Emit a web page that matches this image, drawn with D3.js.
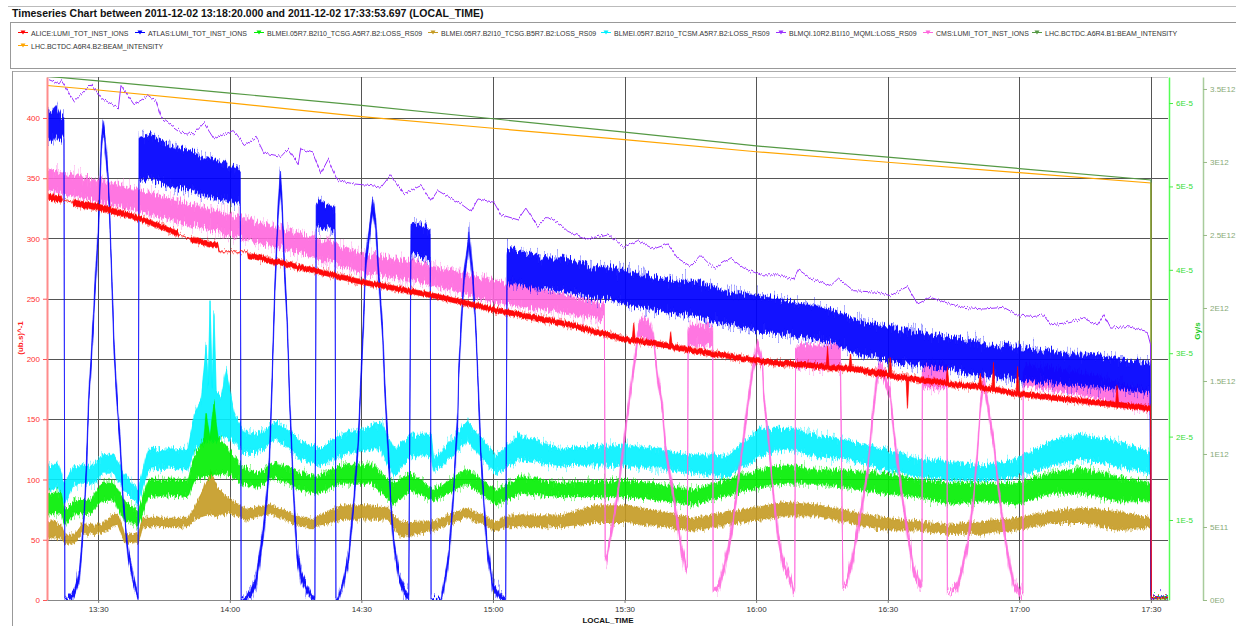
<!DOCTYPE html>
<html>
<head>
<meta charset="utf-8">
<title>Timeseries Chart</title>
<script src="https://cdn.jsdelivr.net/npm/d3@7"></script>
<style>
  body { margin: 0; background: #fff; }
  svg { font-family: "Liberation Sans", Arial, sans-serif; display: block; }
</style>
</head>
<body>
<svg id="chart" width="1236" height="626"></svg>
<script>
// ---- data (time in minutes after 13:00 on 2011-12-02) ----
const timeTicks = ['13:30', '14:00', '14:30', '15:00', '15:30', '16:00', '16:30', '17:00', '17:30'];
const lumiTicks = [0, 50, 100, 150, 200, 250, 300, 350, 400];
const lossTicks = [1, 2, 3, 4, 5, 6];                        // x 1E-5 Gy/s
const lossTickLabels = ['1E-5', '2E-5', '3E-5', '4E-5', '5E-5', '6E-5'];
const intTicks = [0, 0.5, 1, 1.5, 2, 2.5, 3, 3.5];            // x 1E12
const intTickLabels = ['0E0', '5E11', '1E12', '1.5E12', '2E12', '2.5E12', '3E12', '3.5E12'];

const seriesNames = [
  'ALICE:LUMI_TOT_INST_IONS', 'ATLAS:LUMI_TOT_INST_IONS',
  'BLMEI.05R7.B2I10_TCSG.A5R7.B2:LOSS_RS09', 'BLMEI.05R7.B2I10_TCSG.B5R7.B2:LOSS_RS09',
  'BLMEI.05R7.B2I10_TCSM.A5R7.B2:LOSS_RS09', 'BLMQI.10R2.B1I10_MQML:LOSS_RS09',
  'CMS:LUMI_TOT_INST_IONS', 'LHC.BCTDC.A6R4.B1:BEAM_INTENSITY', 'LHC.BCTDC.A6R4.B2:BEAM_INTENSITY'
];
const seriesColors = ['#ff0000', '#0000ff', '#00ee00', '#c49a22', '#00f0ff', '#9b30ff', '#ff66dd', '#559944', '#ffa500'];

// noisy series: [minute, low, high] envelope
const alice = [
  [18.3,332,337],[21.6,330,335],[21.8,332,332],[24.2,330,330],[24.4,327,332],[30.7,323,328],[39.8,314,318],
  [48.2,302,306],[48.4,303,303],[51.0,300,300],[51.2,297,301],[57.3,292,296],[57.6,289,289],[64.0,289,289],
  [64.2,284,288],[76.2,274,278],[89.9,262,266],[105.9,251,255],[120.2,239,243],[135.5,228,232],[150.7,214,218],
  [151.8,213,217],[152.1,213,230],[152.4,213,217],[160.2,209,213],[160.5,209,222],[160.8,208,212],[165.8,205,209],
  [181.0,196,200],[194.7,192,196],[196.0,191,195],[196.3,191,210],[196.6,191,195],[201.2,190,194],[201.5,190,205],
  [201.8,190,194],[209.0,185,190],[210.3,185,189],[210.6,185,202],[210.9,184,188],[214.2,182,186],[214.5,159,186],
  [214.8,182,186],[223.3,178,182],[223.6,178,193],[223.9,177,181],[230.8,175,179],[231.1,175,188],[231.4,174,178],
  [233.8,173,177],[234.1,173,196],[234.4,173,177],[239.3,169,173],[239.6,169,193],[239.9,169,173],[254.6,163,167],
  [262.0,160,164],[262.3,160,178],[262.6,160,164],[269.9,157,161],[270.1,2,2],[273.9,2,2]
];
const atlas = [
  [18.3,384,404],[19.5,380,406],[20.5,386,410],[21.5,382,402],[22.2,384,400],[22.4,0,0],
  [22.9,0,2],[24.5,2,8],[25.7,16,24],[26.1,32,40],[26.8,66,74],[27.3,103,113],[27.9,166,176],[28.4,194,204],
  [28.9,225,235],[29.5,270,280],[30.0,295,305],[30.7,370,380],[31.1,387,397],[31.6,375,385],[32.3,345,355],
  [33.0,275,285],[33.6,205,215],[34.3,160,170],[35.0,125,135],[35.7,78,86],[36.8,35,43],[38.0,13,19],[39.1,0,3],
  [39.3,348,384],[41.5,350,386],[44.4,345,380],[47.5,342,376],[51.2,340,372],[54.0,336,368],[56.9,333,365],
  [60.0,331,360],[62.4,329,357],[62.6,0,0],
  [62.8,0,1],[63.7,0,3],[64.9,3,9],[66.0,11,19],[66.7,28,38],[67.6,50,60],[68.3,75,85],[69.0,104,116],
  [69.4,147,159],[69.9,205,217],[70.3,254,266],[71.0,314,326],[71.5,342,358],[71.9,324,336],[72.4,276,288],
  [73.1,224,236],[73.7,154,166],[74.4,95,105],[75.3,35,45],[76.2,16,24],[77.4,7,13],[78.5,1,5],[79.4,0,2],
  [79.7,310,329],[80.5,310,332],[82.0,308,328],[84.0,306,326],[84.2,0,0],
  [84.7,0,2],[86.0,13,19],[87.2,35,43],[88.3,78,86],[89.2,120,130],[89.9,177,187],[90.4,217,227],[91.0,277,287],
  [91.7,297,307],[92.6,322,334],[93.3,306,316],[94.0,263,273],[94.9,212,222],[95.3,175,185],[96.1,120,130],
  [96.7,77,87],[97.4,41,49],[98.6,16,22],[99.7,5,11],[100.8,0,4],
  [101.3,285,311],[102.5,287,313],[104.0,284,310],[105.7,283,308],[105.9,0,0],
  [106.3,0,1],[108.1,0,2],[108.8,8,14],[110.0,35,43],[110.9,78,86],[112.0,148,158],[112.2,183,193],[112.7,220,230],
  [113.4,263,273],[114.3,286,296],[114.5,296,308],[115.4,263,273],[116.1,220,230],[116.6,177,187],[117.2,120,130],
  [117.9,77,87],[118.8,35,43],[120.0,8,14],[121.8,0,4],[122.9,0,2],
  [123.2,262,291],[126.0,262,290],[129.0,258,286],[132.0,259,284],[135.5,256,284],[139.0,254,281],[143.0,250,276],
  [146.5,250,276],[150.7,245,273],[154.0,243,270],[158.0,240,267],[162.0,238,264],[165.8,236,265],[170.0,232,260],
  [174.0,228,255],[177.5,226,254],[181.0,222,252],[185.0,222,250],[189.0,218,246],[194.0,216,244],[198.0,212,240],
  [202.0,206,234],[205.5,203,230],[209.0,200,228],[213.0,197,226],[217.0,195,222],[220.5,193,220],[224.3,191,218],
  [228.0,188,216],[232.0,186,212],[236.0,185,211],[239.6,183,210],[243.5,181,208],[247.0,180,206],[251.0,178,204],
  [254.6,178,204],[258.0,176,202],[262.0,175,200],[266.0,173,198],[269.8,172,196],[270.0,2,2],[273.9,2,2]
];
const cms = [
  [18.3,340,357],[30.7,330,348],[44.4,318,335],[53.5,309,326],[64.9,298,315],[76.2,288,304],[89.9,272,288],
  [105.9,262,278],[120.2,247,265],[133.2,240,256],[145.4,233,245],
  [145.6,36,36],[146.0,33,39],[148.5,84,92],[150.7,152,160],[151.9,184,192],[153.0,215,223],[153.7,216,233],
  [155.3,216,233],[156.6,212,220],[157.6,181,189],[158.7,155,163],[159.4,121,129],[161.2,81,89],[162.8,41,49],
  [163.9,24,32],[164.3,28,28],
  [164.5,222,222],[164.6,211,228],[170.1,211,228],[170.2,8,8],[171.5,8,14],[173.5,35,43],[174.9,64,72],
  [176.5,112,120],[178.1,158,166],[179.4,192,200],[180.3,205,215],[181.5,192,200],[181.7,167,175],[182.9,127,135],
  [184.0,81,89],[185.1,47,55],[186.3,24,32],[187.9,13,19],[188.5,6,10],[188.8,8,8],
  [189.0,208,208],[189.5,193,211],[199.2,193,211],[199.8,11,11],[200.8,13,19],[202.2,35,43],[203.8,67,75],
  [205.4,101,109],[206.5,147,155],[207.7,184,192],[208.3,190,200],[210.6,167,175],[211.3,138,146],[212.9,92,100],
  [214.5,52,60],[215.9,21,29],[217.5,10,16],[217.8,13,13],
  [217.9,191,191],[218.2,176,196],[223.5,176,196],[223.6,5,5],[225.9,8,14],[228.2,41,49],[229.5,78,86],
  [230.5,121,129],[231.1,155,163],[231.8,177,187],[232.7,161,169],[234.1,127,135],[235.7,75,83],[237.3,35,43],
  [238.7,10,16],[240.3,2,8],[240.8,5,5],
  [240.9,191,191],[241.1,178,195],[247.0,174,192],[254.6,170,188],[262.0,163,180],[269.9,157,172],[270.1,2,2],[273.9,2,2]
];
const tcsgA = [
  [18.3,1.07,1.32],[21.6,1.08,1.32],[22.3,0.95,1.11],[24.5,1.07,1.23],[28.4,1.08,1.24],[30.7,1.23,1.44],
  [33.6,1.24,1.44],[35.9,1.00,1.23],[39.1,0.93,1.10],[41.4,1.28,1.48],[46.0,1.30,1.48],[50.5,1.28,1.48],
  [51.9,1.48,1.77],[54.1,1.52,1.95],[54.6,1.52,2.27],[55.5,1.52,1.98],[56.4,1.55,2.40],[57.3,1.55,2.00],
  [59.6,1.56,1.85],[62.6,1.44,1.65],[66.4,1.40,1.56],[70.1,1.52,1.69],[76.2,1.36,1.56],[80.1,1.32,1.52],
  [85.4,1.44,1.65],[92.2,1.44,1.67],[97.4,1.19,1.44],[101.3,1.36,1.56],[106.5,1.23,1.36],[113.8,1.44,1.61],
  [120.7,1.19,1.36],[126.4,1.32,1.52],[135.5,1.28,1.44],[150.7,1.28,1.48],[165.8,1.19,1.36],[181.0,1.40,1.60],
  [186.3,1.44,1.65],[194.0,1.44,1.61],[209.0,1.32,1.56],[216.8,1.28,1.48],[224.3,1.19,1.44],[231.8,1.23,1.44],
  [239.6,1.19,1.44],[247.1,1.32,1.56],[254.6,1.32,1.61],[262.3,1.23,1.52],[269.9,1.23,1.44],[270.1,0.07,0.07],[273.9,0.07,0.07]
];
const tcsgB = [
  [18.3,0.76,0.93],[19.5,0.80,1.00],[21.6,0.78,0.93],[22.3,0.72,0.82],[24.5,0.72,0.82],[26.1,0.84,0.94],
  [30.7,0.84,0.94],[33.0,0.92,1.05],[34.6,0.94,1.06],[36.0,0.74,0.84],[39.1,0.72,0.82],[40.2,0.92,1.02],
  [50.5,0.92,1.02],[51.9,1.01,1.14],[54.1,1.05,1.38],[55.7,1.07,1.56],[57.3,1.05,1.38],[59.6,1.09,1.26],
  [63.7,1.01,1.13],[69.4,1.08,1.18],[76.2,0.92,1.02],[79.2,0.92,1.02],[85.4,1.01,1.17],[92.2,1.01,1.17],
  [96.0,1.01,1.14],[99.0,0.80,0.97],[101.3,0.82,0.97],[106.5,0.88,0.98],[113.8,1.04,1.14],[120.7,0.88,0.98],
  [124.0,0.92,1.05],[135.5,0.92,1.05],[143.0,0.97,1.17],[150.7,0.97,1.17],[165.8,0.88,1.02],[181.0,1.01,1.16],
  [186.3,1.05,1.21],[194.0,1.05,1.18],[201.5,0.97,1.10],[209.0,0.88,1.02],[216.8,0.88,0.98],[224.3,0.84,0.94],
  [231.8,0.84,0.98],[239.6,0.88,1.02],[247.1,0.97,1.10],[254.6,0.97,1.14],[262.3,0.88,1.10],[269.9,0.92,1.02],
  [270.1,0.07,0.07],[273.9,0.07,0.07]
];
const tcsm = [
  [18.3,1.36,1.65],[20.9,1.38,1.66],[22.3,1.19,1.44],[24.5,1.44,1.65],[29.1,1.44,1.66],[30.7,1.56,1.77],
  [33.6,1.56,1.78],[35.9,1.36,1.56],[39.1,1.19,1.36],[41.4,1.61,1.85],[46.0,1.62,1.84],[50.5,1.61,1.85],
  [51.9,1.85,2.27],[53.5,1.90,2.45],[54.6,1.94,3.10],[55.1,1.94,2.60],[55.5,1.94,3.63],[56.0,1.94,2.60],
  [56.4,1.94,3.50],[56.9,1.94,2.55],[58.0,2.02,2.47],[59.2,1.98,2.80],[61.0,1.94,2.27],[63.3,1.81,2.06],
  [66.4,1.81,2.02],[70.5,1.98,2.18],[76.2,1.73,1.94],[80.8,1.65,1.85],[85.4,1.77,2.02],[90.6,1.85,2.10],
  [94.5,1.85,2.18],[97.4,1.52,1.85],[101.3,1.77,2.02],[105.9,1.77,2.02],[106.5,1.58,1.72],[114.1,1.94,2.18],
  [120.7,1.56,1.77],[125.7,1.73,2.02],[135.5,1.65,1.85],[143.0,1.66,1.88],[150.7,1.65,1.90],[158.0,1.62,1.84],
  [165.8,1.56,1.77],[173.5,1.52,1.77],[181.0,1.77,2.10],[186.3,1.85,2.10],[194.0,1.77,2.02],[201.5,1.73,1.94],
  [209.0,1.61,1.85],[216.8,1.52,1.73],[224.3,1.48,1.69],[231.8,1.48,1.65],[239.6,1.52,1.73],[247.1,1.65,1.94],
  [254.6,1.73,2.02],[262.3,1.65,1.94],[269.9,1.56,1.81],[270.1,0.07,0.07],[273.9,0.07,0.07]
];
// plain lines: [minute, value]
const mqml = [
  [18.3,6.29],[21.1,6.23],[21.6,6.27],[24.5,6.02],[28.4,6.23],[30.7,6.06],[34.6,5.94],[35.2,6.21],[38.2,5.98],
  [41.4,6.09],[43.2,6.02],[44.4,5.82],[48.9,5.65],[51.9,5.63],[54.1,5.76],[56.4,5.57],[60.8,5.67],[63.3,5.49],
  [66.0,5.59],[67.8,5.40],[71.7,5.36],[73.3,5.45],[75.6,5.26],[76.2,5.45],[79.0,5.40],[80.8,5.16],[82.4,5.32],
  [84.7,5.07],[88.3,5.03],[92.2,5.01],[94.5,4.99],[96.7,5.14],[99.7,4.91],[103.6,5.01],[105.9,4.83],[107.4,4.95],
  [112.7,4.79],[115.0,4.70],[116.6,4.85],[120.2,4.81],[121.8,4.66],[125.7,4.60],[127.5,4.74],[130.2,4.52],
  [132.5,4.64],[135.5,4.54],[137.1,4.46],[141.6,4.37],[146.2,4.43],[149.8,4.27],[153.0,4.35],[156.6,4.25],
  [159.8,4.31],[162.1,4.14],[165.1,4.04],[167.4,4.17],[170.3,4.02],[174.2,4.14],[177.2,4.02],[181.0,3.94],
  [184.9,3.94],[188.5,3.88],[189.7,4.00],[192.4,3.90],[197.0,3.81],[198.8,3.90],[200.8,3.81],[202.2,3.75],
  [207.7,3.73],[210.6,3.69],[214.5,3.80],[216.8,3.59],[219.7,3.67],[224.3,3.59],[227.3,3.55],[231.8,3.53],
  [236.4,3.55],[239.6,3.46],[243.2,3.44],[245.5,3.46],[247.1,3.34],[250.0,3.36],[254.6,3.42],[257.8,3.34],
  [259.2,3.46],[260.8,3.30],[264.6,3.32],[269.2,3.26],[269.9,3.12],[270.1,0.07],[273.9,0.07]
];
const beamB1 = [[18.3,3.587],[30,3.555],[60,3.472],[90,3.388],[120,3.296],[150,3.204],[180,3.110],[210,3.033],[240,2.955],[270,2.877],[270.1,0.01],[273.9,0.01]];
const beamB2 = [[18.3,3.524],[30,3.493],[60,3.405],[90,3.311],[120,3.231],[150,3.153],[180,3.070],[210,2.998],[240,2.927],[270,2.856],[270.1,0.01],[273.9,0.01]];

// ---- scales ----
const at = m => new Date(2011, 11, 2, 13, 0, 0, Math.round(m * 60000));
const x = d3.scaleTime()
    .domain([new Date(2011, 11, 2, 13, 18, 20), new Date(2011, 11, 2, 17, 33, 53, 697)])
    .range([47, 1168]);
const yLumi = d3.scaleLinear().domain([0, 434]).range([600, 77]);
const yLoss = d3.scaleLinear().domain([0.0408, 6.312]).range([600, 77]);
const yInt = d3.scaleLinear().domain([0, 3.582]).range([600, 77]);
const tickDates = timeTicks.map(s => { const p = s.split(':'); return new Date(2011, 11, 2, +p[0], +p[1]); });

const svg = d3.select('#chart');

// jitter filters: shift each pixel column up/down a little so the dense
// logged traces get a ragged, noisy edge like the original plot
const defs = svg.append('defs');
function jag(id, scale, seed, fy) {
  const f = defs.append('filter').attr('id', id)
      .attr('filterUnits', 'userSpaceOnUse').attr('x', 0).attr('y', 0).attr('width', 1236).attr('height', 626)
      .attr('color-interpolation-filters', 'sRGB');
  f.append('feTurbulence').attr('type', 'fractalNoise').attr('baseFrequency', `0.7 ${fy}`)
      .attr('numOctaves', 2).attr('seed', seed).attr('result', 'n');
  f.append('feColorMatrix').attr('in', 'n').attr('type', 'matrix')
      .attr('values', '0 0 0 0 0.5  0 1 0 0 0  0 0 1 0 0  0 0 0 0 1').attr('result', 'm');
  f.append('feDisplacementMap').attr('in', 'SourceGraphic').attr('in2', 'm').attr('scale', scale)
      .attr('xChannelSelector', 'R').attr('yChannelSelector', 'G');
}
jag('j14', 16, 2, 0.01); jag('j10', 12, 5, 0.01); jag('j8', 9, 7, 0.01); jag('j5', 5, 11, 0.01); jag('j4', 6, 13, 0.01);
jag('h30', 34, 17, 0.02); jag('h20', 22, 19, 0.02); jag('h10', 12, 23, 0.02);

// ---- frame, title, legend ----
svg.append('rect').attr('width', 1236).attr('height', 626).attr('fill', '#fff');
svg.append('line').attr('x1', 8).attr('x2', 1236).attr('y1', 6.5).attr('y2', 6.5).attr('stroke', '#bbb');
svg.append('text').attr('x', 12).attr('y', 17)
    .style('font-size', '10.5px').style('font-weight', 'bold').attr('fill', '#111')
    .text('Timeseries Chart between 2011-12-02 13:18:20.000 and 2011-12-02 17:33:53.697 (LOCAL_TIME)');
svg.append('rect').attr('x', 10.5).attr('y', 22.5).attr('width', 1230).attr('height', 46)
    .attr('fill', '#fff').attr('stroke', '#999');
svg.append('line').attr('x1', 12).attr('x2', 1236).attr('y1', 71.5).attr('y2', 71.5).attr('stroke', '#aaa');
svg.append('line').attr('x1', 12.5).attr('x2', 12.5).attr('y1', 71).attr('y2', 626).attr('stroke', '#999');

const legendPos = [[31, 33], [148, 33], [267, 33], [441, 33], [614, 33], [789, 33], [936, 33], [1045, 33], [31, 46]];
const legend = svg.append('g');
seriesNames.forEach((name, s) => {
  const [lx, ly] = legendPos[s];
  const item = legend.append('g').attr('transform', `translate(${lx},${ly})`);
  item.append('line').attr('x1', -13).attr('x2', -3).attr('y1', -0.5).attr('y2', -0.5)
      .attr('stroke', seriesColors[s]);
  item.append('path').attr('d', 'M-10.5,-2.5 L-5.5,-2.5 L-8,1.5 Z').attr('fill', seriesColors[s]);
  item.append('text').attr('x', 0).attr('y', 2.5).style('font-size', '7px').attr('fill', '#333')
      .text(name);
});

// ---- grid ----
const grid = svg.append('g');
grid.append('line').attr('x1', 47).attr('x2', 1168).attr('y1', 77.5).attr('y2', 77.5).attr('stroke', '#ccc');
grid.selectAll('.hg').data(lumiTicks.slice(1)).enter().append('line')
    .attr('x1', 47).attr('x2', 1168)
    .attr('y1', d => Math.round(yLumi(d)) + 0.5).attr('y2', d => Math.round(yLumi(d)) + 0.5)
    .attr('stroke', '#555');
grid.selectAll('.vg').data(tickDates).enter().append('line')
    .attr('x1', d => Math.round(x(d)) + 0.5).attr('x2', d => Math.round(x(d)) + 0.5)
    .attr('y1', 77).attr('y2', 600).attr('stroke', '#555');

// ---- series ----
svg.append('clipPath').attr('id', 'plot').append('rect')
    .attr('x', 47).attr('y', 77).attr('width', 1121).attr('height', 523);
const plot = svg.append('g').attr('clip-path', 'url(#plot)');

function drawLine(data, y, color, w, filt) {
  const p = plot.append('path')
      .attr('d', d3.line().x(d => x(at(d[0]))).y(d => y(d[1]))(data))
      .attr('fill', 'none').attr('stroke', color).attr('stroke-width', w);
  if (filt) p.attr('filter', `url(#${filt})`);
}
function drawBand(data, y, color, fo, so, filt, halo, ho) {
  const d = d3.area().x(d => x(at(d[0]))).y0(d => y(d[1])).y1(d => y(d[2]))(data);
  if (halo) {
    plot.append('path').attr('d', d)
        .attr('fill', color).attr('fill-opacity', ho)
        .attr('stroke', color).attr('stroke-opacity', ho).attr('stroke-width', 1)
        .attr('filter', `url(#${halo})`);
  }
  plot.append('path').attr('d', d)
      .attr('fill', color).attr('fill-opacity', fo)
      .attr('stroke', color).attr('stroke-opacity', so).attr('stroke-width', 1)
      .attr('filter', `url(#${filt})`);
}

drawLine(beamB2, yInt, seriesColors[8], 1.2);
drawLine(beamB1, yInt, seriesColors[7], 1.2);
drawLine(mqml, yLoss, seriesColors[5], 1, 'j4');
drawBand(tcsm, yLoss, seriesColors[4], 0.85, 0.6, 'j10', 'h20', 0.35);
drawBand(tcsgB, yLoss, seriesColors[3], 0.85, 0.8, 'j8', 'h10', 0.35);
drawBand(tcsgA, yLoss, seriesColors[2], 0.85, 0.6, 'j10', 'h20', 0.35);
drawBand(cms, yLumi, seriesColors[6], 0.85, 0.55, 'j14', 'h30', 0.3);
drawBand(atlas, yLumi, seriesColors[1], 0.9, 0.45, 'j14', 'h30', 0.3);
drawBand(alice, yLumi, seriesColors[0], 0.95, 0.5, 'j5', 'h10', 0.3);

// ---- axes ----
const axL = svg.append('g').attr('transform', 'translate(47,0)')
    .call(d3.axisLeft(yLumi).tickValues(lumiTicks).tickSize(4).tickSizeOuter(0));
axL.select('.domain').attr('stroke', '#ff8c8c').attr('stroke-width', 2);
axL.selectAll('.tick line').attr('stroke', '#ff5555');
axL.selectAll('.tick text').attr('fill', '#ff3030').style('font-size', '8px');
svg.append('text').attr('transform', 'translate(23,338) rotate(-90)').attr('text-anchor', 'middle')
    .style('font-size', '8px').style('font-weight', 'bold').attr('fill', '#ff2020').text('(ub.s)^-1');

const axB = svg.append('g').attr('transform', 'translate(0,600)')
    .call(d3.axisBottom(x).tickValues(tickDates).tickFormat(d3.timeFormat('%H:%M')).tickSize(3).tickSizeOuter(0));
axB.select('.domain').attr('stroke', '#888');
axB.selectAll('.tick line').attr('stroke', '#777');
axB.selectAll('.tick text').attr('fill', '#333').style('font-size', '8px');
svg.append('text').attr('x', 608).attr('y', 623).attr('text-anchor', 'middle')
    .style('font-size', '8px').style('font-weight', 'bold').attr('fill', '#111').text('LOCAL_TIME');

const axG = svg.append('g').attr('transform', 'translate(1169,0)')
    .call(d3.axisRight(yLoss).tickValues(lossTicks).tickFormat((d, i) => lossTickLabels[i]).tickSize(4).tickSizeOuter(0));
axG.select('.domain').attr('stroke', '#55ff55').attr('stroke-width', 1.5);
axG.selectAll('.tick line').attr('stroke', '#44ee44');
axG.selectAll('.tick text').attr('fill', '#33dd33').style('font-size', '8px');
svg.append('text').attr('transform', 'translate(1200,331) rotate(-90)').attr('text-anchor', 'middle')
    .style('font-size', '8px').style('font-weight', 'bold').attr('fill', '#22cc22').text('Gy/s');

const axI = svg.append('g').attr('transform', 'translate(1203,0)')
    .call(d3.axisRight(yInt).tickValues(intTicks).tickFormat((d, i) => intTickLabels[i]).tickSize(4).tickSizeOuter(0));
axI.select('.domain').attr('stroke', '#a8cc9c').attr('stroke-width', 1.5);
axI.selectAll('.tick line').attr('stroke', '#99bb88');
axI.selectAll('.tick text').attr('fill', '#88aa77').style('font-size', '8px');
svg.selectAll('.domain').attr('fill', 'none');
</script>
</body>
</html>
